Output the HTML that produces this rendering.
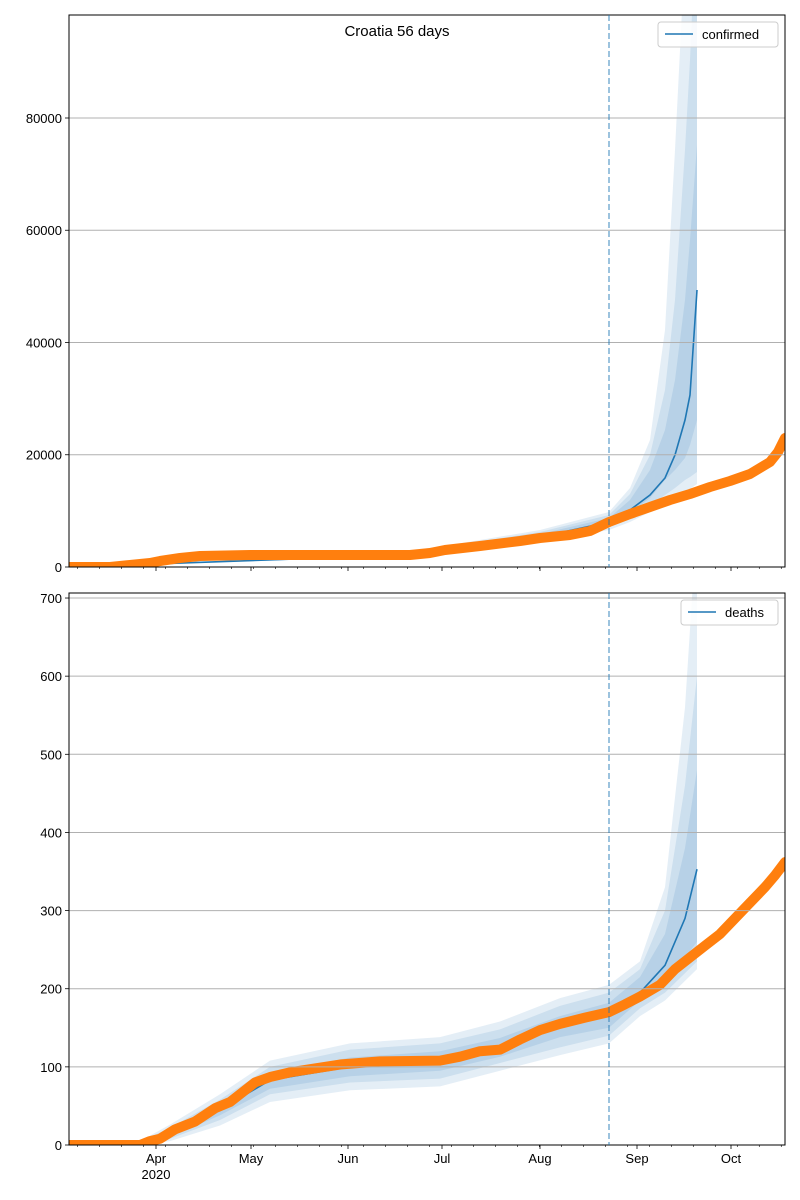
<!DOCTYPE html>
<html><head><meta charset="utf-8">
<style>
html,body{margin:0;padding:0;background:#fff;}
svg{display:block;font-family:"Liberation Sans","DejaVu Sans",sans-serif;}
</style></head>
<body>
<svg id="s" width="800" height="1200" xmlns="http://www.w3.org/2000/svg">
<defs>
<clipPath id="c1"><rect x="69" y="15" width="716" height="552"/></clipPath>
<clipPath id="c2"><rect x="69" y="593" width="716" height="552"/></clipPath>
</defs>
<g id="g1" clip-path="url(#c1)"></g>
<g id="g2" clip-path="url(#c2)"></g>
<g id="ax"></g>
</svg>
<script>
const NS="http://www.w3.org/2000/svg";
function el(p,t,a,txt){const e=document.createElementNS(NS,t);for(const k in a)e.setAttribute(k,a[k]);if(txt!==undefined)e.textContent=txt;p.appendChild(e);return e;}
const ax=document.getElementById('ax'),g1=document.getElementById('g1'),g2=document.getElementById('g2');
const L=69,R=785;
// grids & axes
function axes(top,bot,ticks,yf,showX){
  ticks.forEach(v=>{const y=yf(v);
    if(v>0) el(ax,'line',{x1:L,x2:R,y1:y,y2:y,stroke:'#b0b0b0','stroke-width':1});
    el(ax,'line',{x1:L-4,x2:L,y1:y,y2:y,stroke:'#000','stroke-width':0.8});
    el(ax,'text',{x:L-7,y:y+5,'text-anchor':'end','font-size':13},String(v));
  });
  el(ax,'rect',{x:L,y:top,width:R-L,height:bot-top,fill:'none',stroke:'#000','stroke-width':1});
  const months=[[156,'Apr'],[251,'May'],[348,'Jun'],[442,'Jul'],[540,'Aug'],[637,'Sep'],[731,'Oct']];
  const pd=3.142;
  for(let d=-28;d<=200;d++){ // weekly minor ticks (Mondays approx)
    if(((d+4)%7+7)%7===0){const x=156+d*pd; if(x>L&&x<R) el(ax,'line',{x1:x,x2:x,y1:bot,y2:bot+2,stroke:'#000','stroke-width':0.6});}
  }
  months.forEach(([x,t])=>{el(ax,'line',{x1:x,x2:x,y1:bot,y2:bot+4,stroke:'#000','stroke-width':0.8});
    if(showX) el(ax,'text',{x:x,y:bot+18,'text-anchor':'middle','font-size':13},t);});
  if(showX) el(ax,'text',{x:156,y:bot+34,'text-anchor':'middle','font-size':13},'2020');
}
const y1=v=>567-v*552/98351, y2=v=>1145-v*0.7814;
axes(15,567,[0,20000,40000,60000,80000],y1,false);
axes(593,1145,[0,100,200,300,400,500,600,700],y2,true);
el(ax,'text',{x:397,y:36,'text-anchor':'middle','font-size':15},'Croatia 56 days');
function bands(g,keys){
  for(let b=0;b<3;b++){
    let up=[],lo=[];
    keys.forEach(k=>{lo.push(k[0]+','+k[1+b]);up.push(k[0]+','+k[7-b]);});
    el(g,'polygon',{points:up.concat(lo.reverse()).join(' '),fill:'#1f77b4','fill-opacity':0.12,stroke:'none'});
  }
  el(g,'polyline',{points:keys.map(k=>k[0]+','+k[4]).join(' '),fill:'none',stroke:'#1f77b4','stroke-width':1.6});
}
// top keys: x, lo1,lo2,lo3,med,hi3,hi2,hi1 (pixel y)
const K1=[[69,567,567,567,567,567,567,567],[380,557,557,557,556,555,555,555],[450,553,552,551,549,547,546,545],
[540,542,540,539,537,534,532,530],[609,530,527,525,522,518,515,512],[630,522,518,513,510,500,494,488],
[650,512,506,498,495,470,455,440],[665,505,495,480,478,430,390,330],[675,500,488,470,455,380,300,150],
[685,492,480,458,420,300,150,-50],[690,489,477,445,395,240,60,-150],[697,484,472,420,290,145,-100,-200]];
bands(g1,K1);
const K2v=[[69,0,0,0,0,0,0,0],[140,0,0,0,2,3,4,5],[170,5,8,10,15,18,22,26],[220,25,32,38,45,52,58,65],
[270,55,65,72,83,92,100,108],[350,70,80,88,100,112,122,130],[440,75,85,95,108,120,130,138],
[500,95,105,113,125,137,148,158],[560,115,125,138,152,165,178,188],[609,130,140,150,165,182,195,205],
[640,165,175,185,195,215,225,235],[665,185,195,205,230,270,300,330],[685,210,220,240,290,380,460,560],
[697,225,235,260,353,480,600,800]];
bands(g2,K2v.map(k=>[k[0]].concat(k.slice(1).map(y2))));
// orange data
const D1=[[69,567],[110,567],[130,565],[150,563],[160,561],[180,558],[200,556],[250,555],[410,555],[430,553],[445,550],[480,546],[520,541],[540,538],[570,535],[590,531],[609,522],[630,514],[650,507],[670,500],[690,494],[710,487],[730,481],[750,474],[760,468],[770,462],[778,452],[782,444],[785,438]];
el(g1,'polyline',{points:D1.map(p=>p.join(',')).join(' '),fill:'none',stroke:'#ff7f0e','stroke-width':10,'stroke-linecap':'round','stroke-linejoin':'round'});
const D2=[[69,0],[140,0],[150,5],[160,8],[175,20],[195,30],[215,47],[230,55],[245,70],[255,80],[270,87],[290,93],[310,97],[340,103],[380,107],[440,108],[460,113],[480,120],[500,122],[520,135],[540,147],[560,155],[585,163],[609,170],[625,180],[640,190],[660,205],[675,225],[690,240],[705,255],[720,270],[735,290],[750,310],[765,330],[775,345],[785,362]];
el(g2,'polyline',{points:D2.map(p=>p[0]+','+y2(p[1])).join(' '),fill:'none',stroke:'#ff7f0e','stroke-width':10,'stroke-linecap':'round','stroke-linejoin':'round'});
// dashed lines
[[15,567],[593,1145]].forEach(([a,b])=>el(ax,'line',{x1:609,x2:609,y1:a,y2:b,stroke:'#1f77b4','stroke-opacity':0.55,'stroke-width':1.6,'stroke-dasharray':'6,3'}));
// legends
function legend(x,y,w,txt){
  el(ax,'rect',{x:x,y:y,width:w,height:25,rx:3,fill:'#fff','fill-opacity':0.85,stroke:'#ccc'});
  el(ax,'line',{x1:x+7,x2:x+35,y1:y+12,y2:y+12,stroke:'#1f77b4','stroke-width':1.6});
  el(ax,'text',{x:x+44,y:y+17,'font-size':13},txt);
}
legend(658,22,120,'confirmed');
legend(681,600,97,'deaths');
</script>
</body></html>
